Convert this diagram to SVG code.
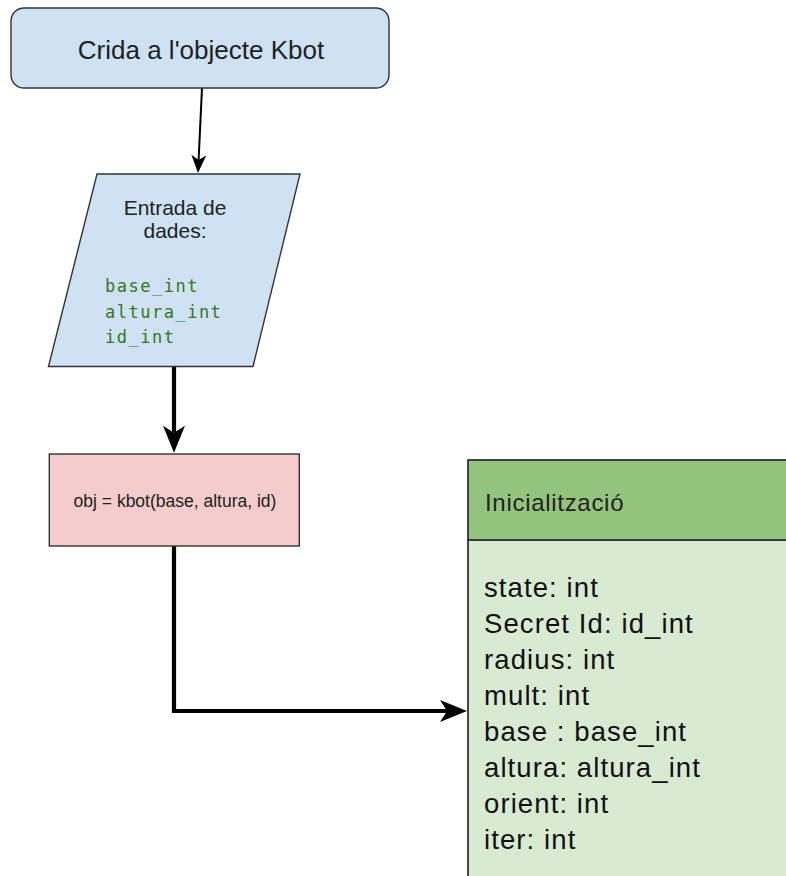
<svg xmlns="http://www.w3.org/2000/svg" width="786" height="876" viewBox="0 0 786 876">
  <style>
    .shape { stroke: #333333; stroke-width: 1.4; }
    .blue { fill: #cfe2f3; }
    .pink { fill: #f4cccc; }
    .greenHead { fill: #93c47d; stroke: #333333; stroke-width: 1.8; }
    .greenBody { fill: #d9ead3; stroke: #333333; stroke-width: 1.8; }
    .label { font-family: "Liberation Sans", Arial, sans-serif; fill: #222222; }
    .code { font-family: "DejaVu Sans Mono", "Liberation Mono", monospace; fill: #38761d; font-size: 17px; letter-spacing: 1.5px; }
    .field { font-family: "Liberation Sans", Arial, sans-serif; fill: #111111; font-size: 27.5px; letter-spacing: 1.1px; }
    .edge { fill: none; stroke: #000000; }
  </style>
  <defs>
    <marker id="headThin" markerUnits="userSpaceOnUse" markerWidth="18" markerHeight="15" refX="5" refY="7.5" orient="auto">
      <path d="M0,0 L18,7.5 L0,15 L5,7.5 Z" fill="#000000"/>
    </marker>
    <marker id="headThick" markerUnits="userSpaceOnUse" markerWidth="27" markerHeight="22" refX="7" refY="11" orient="auto">
      <path d="M0,0 L27,11 L0,22 L7,11 Z" fill="#000000"/>
    </marker>
  </defs>

  <g id="connectors">
    <path class="edge" stroke-width="2" d="M202,88 L198.6,160" marker-end="url(#headThin)"/>
    <path class="edge" stroke-width="4.2" d="M174,366 L174,432.7" marker-end="url(#headThick)"/>
    <path class="edge" stroke-width="4.2" d="M174,546 L174,711 L447,711" marker-end="url(#headThick)"/>
  </g>

  <g id="call-kbot">
    <rect class="shape blue" x="11" y="8" width="378" height="80" rx="13" ry="13"/>
    <text class="label" x="201" y="59" font-size="26" text-anchor="middle">Crida a l'objecte Kbot</text>
  </g>

  <g id="input-data">
    <polygon class="shape blue" points="97,174 300,174 253,366.5 48.5,366.5"/>
    <text class="label" x="175" y="215" font-size="21" text-anchor="middle">Entrada de</text>
    <text class="label" x="175" y="238" font-size="21" text-anchor="middle">dades:</text>
    <text class="code" x="105" y="292">base_int</text>
    <text class="code" x="105" y="318">altura_int</text>
    <text class="code" x="105" y="343">id_int</text>
  </g>

  <g id="create-object">
    <rect class="shape pink" x="49.3" y="454" width="250" height="92"/>
    <text class="label" x="175" y="507" font-size="17.5" text-anchor="middle">obj = kbot(base, altura, id)</text>
  </g>

  <g id="initialization">
    <rect class="greenBody" x="468" y="540" width="330" height="350"/>
    <rect class="greenHead" x="468" y="460" width="330" height="80"/>
    <text class="label" x="485" y="511" font-size="24" letter-spacing="0.7" fill="#1a1a1a">Inicialització</text>
    <text class="field" x="484" y="597">state: int</text>
    <text class="field" x="484" y="633">Secret Id: id_int</text>
    <text class="field" x="484" y="669">radius: int</text>
    <text class="field" x="484" y="705">mult: int</text>
    <text class="field" x="484" y="741">base : base_int</text>
    <text class="field" x="484" y="777">altura: altura_int</text>
    <text class="field" x="484" y="813">orient: int</text>
    <text class="field" x="484" y="849">iter: int</text>
  </g>
</svg>
